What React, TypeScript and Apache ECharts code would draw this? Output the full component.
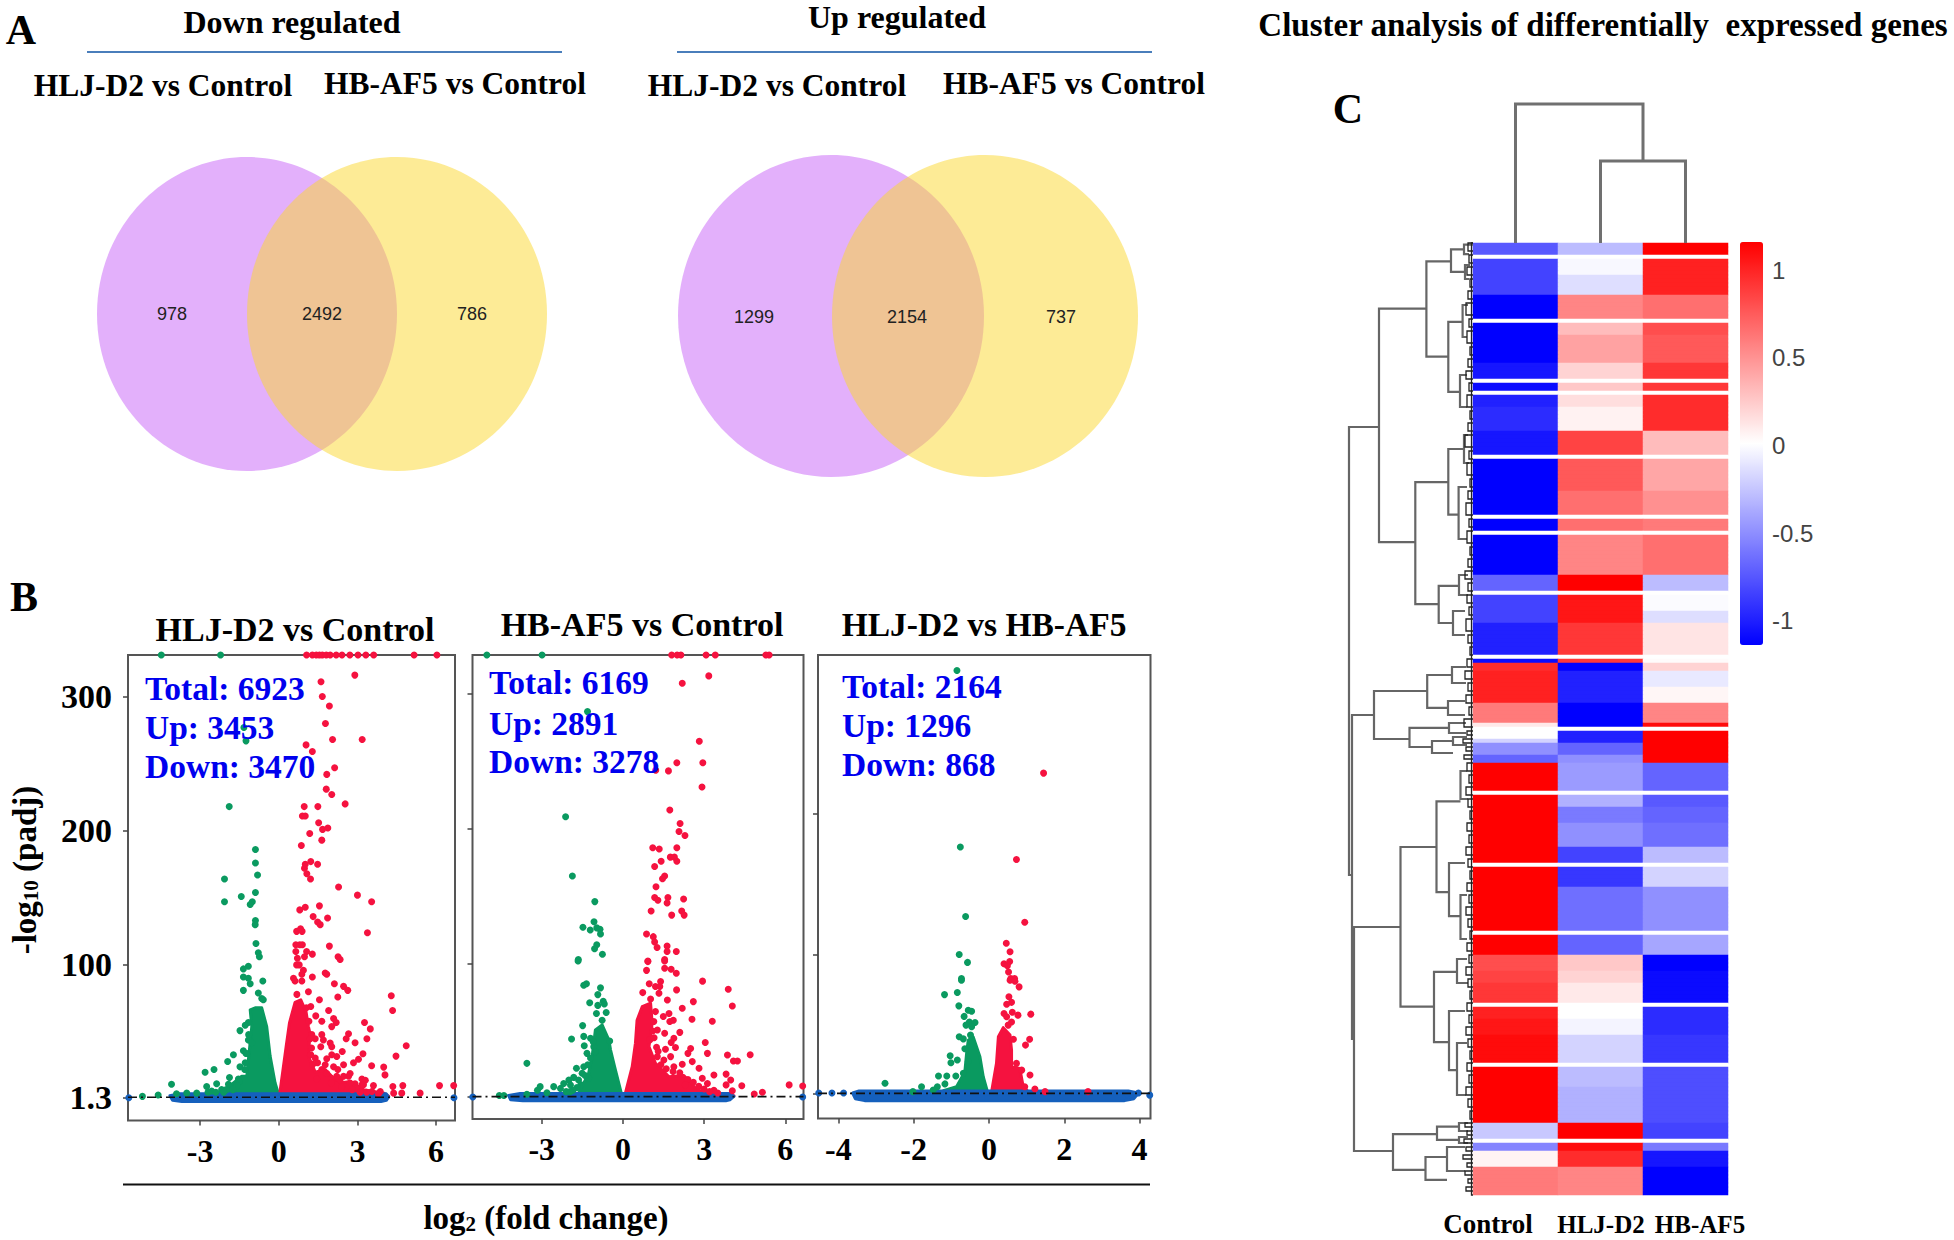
import React, { useEffect, useRef } from "react";
import * as echarts from "echarts";

const SERIF = "'Liberation Serif','Times New Roman',serif";
const SANS = "'Liberation Sans',Arial,sans-serif";

// ---------- Panel A ----------
const vennHeaders = ["Down regulated", "Up regulated"];
const vennSetNames = ["HLJ-D2 vs Control", "HB-AF5 vs Control"];
const vennDownCounts = ["978", "2492", "786"];
const vennUpCounts = ["1299", "2154", "737"];

// ---------- Panel B ----------
const volcanoTitles = ["HLJ-D2 vs Control", "HB-AF5 vs Control", "HLJ-D2 vs HB-AF5"];
const volcanoStats = [
  ["Total: 6923", "Up: 3453", "Down: 3470"],
  ["Total: 6169", "Up: 2891", "Down: 3278"],
  ["Total: 2164", "Up: 1296", "Down: 868"],
];
const thresholdValue = 1.3;
const p1XTicks = [-3, 0, 3, 6];
const p2XTicks = [-3, 0, 3, 6];
const p3XTicks = [-4, -2, 0, 2, 4];
const p1YTicks = [300, 200, 100, 1.3];
const p2YTicks = [300, 200, 100, 1.3];
const p3YTicks = [200, 100, 1.3];

const p1Red = [[1.06,331],[1.28,331],[1.43,331],[1.55,331],[1.66,331],[1.81,331],[1.96,331],[2.19,331],[2.41,331],[2.71,331],[3.02,331],[3.32,331],[3.62,331],[5.16,331],[6.03,331],
[2.9,316],[1.61,311],[1.66,300],[1.93,293],[1.78,280],[2.05,268],[3.18,268],[1.04,264],[1.28,259],[2.13,247],[1.83,242],[1.81,231],[2.02,227],[2.53,220],[0.97,218],[1.49,218],[0.9,211],[1.01,211],[1.52,206],[1.18,198],[1.67,201],[1.87,202],[1.64,193],[0.86,189],[1.22,177],[1.48,175],[1.01,175],[0.98,172],[1.07,168],[1.21,164],[2.28,158],[3,152],[3.54,147],[0.8,141],[1.01,143],[1.55,144],[1.31,136],[1.86,135],[1.48,132],[1.58,130],[3.38,124],[0.68,125],[0.83,127],[0.89,125],[0.65,115],[0.8,115],[0.9,115],[0.65,110],[1.06,110],[1.93,114],[1.28,108],[0.71,105],[0.98,106],[2.26,106],[2.34,104],[0.68,100],
[0.78,100],[0.94,96],[0.88,93],[0.56,90],[0.62,88],[0.88,88],[1.28,91],[1.77,94],[1.83,93],[2.12,86],[2.47,84],[2.63,81],[1.13,80],[0.69,78],[2.25,76],[4.29,77],[4.34,66],[1.55,74],[1.22,69],[1.9,66],[1.41,62],[1.64,58],[2.09,60],[2.19,57],[2.02,54],[3.27,57],[3.49,52.3],[2.66,48.6],[2.57,45],[2.91,42],[3.36,45],[1.26,48],[1.39,45],[1.64,48],[1.7,44],[1.96,41.7],[2.02,39],[4.86,39.7],[1.6,39],[2.42,35.5],[3.21,33.7],[4.47,32],[3.04,29.7],[2.85,27],[2.02,33],[1.83,30],[2.21,31.7],[1.39,30.5],[1.48,27],[1.77,25.5],[2.09,24],[2.47,25.5],[2.25,22],[3.54,24.8],[4,23.8],[4.05,18],[2.72,19],[2.66,17],[3.17,15],[3.3,14],[2.34,14.3],[2.91,11.4],[3.61,10],[3.17,10.6],[4.35,9.4],[4.73,10],[4.38,4.4],[4.69,4.4],[5.39,4.4],[6.13,10],[6.67,10],[3.87,5.6],[3.55,5.6],
[1.64,22],[1.83,19],[2.21,17],[2.47,17],[2.72,12],[2.98,8],[3.23,10.6],[1.45,15],[2,12],[2.4,9],[2.8,7],[3.1,5],[3.35,5],[3.8,4],[1.2,45],[1.25,38],[1.15,58],[1.05,68],[1.3,26],[1.22,33]];
const p1Green = [[-4.48,331],[-2.22,331],[-1.33,277],[-1.25,267],[-1.89,218],[-0.89,186],[-0.89,176],[-0.81,167],[-2.07,164],[-0.89,154],[-1.43,151],[-2.07,147],[-1.01,147],[-1.09,145],[-0.89,133],[-0.9,130],[-0.87,116],[-0.78,109],[-0.74,106],
[-1.16,99],[-1.35,97],[-1.35,91],[-1.16,90],[-1.09,86],[-0.61,88],[-1.35,81],[-0.78,79],[-0.65,75],[-0.59,74],[-1.16,57],[-1.28,55],[-1.48,51],[-1.16,44],[-1.03,42],[-1.35,36],[-1.22,34],[-1.73,33],[-1.95,28],[-1.48,24],[-1.28,27],[-2.81,20],[-2.47,22],[-1.88,16],[-1.54,15],[-2.75,9.4],[-2.37,11.4],[-2.18,7],[-1.92,11],[-2.56,6],[-3.13,4.4],[-3.51,4.4],[-1.73,8],[-4.09,11],[-4.6,3],[-5.2,2],[-3.9,4],
[-1.5,13],[-1.6,10],[-1.75,7],[-2,7],[-2.1,5],[-1.3,22],[-1.25,34],[-1.15,48],[-2.4,5],[-2.7,5]];
const p1RedMass = [[0.03,3],[0.28,39],[0.41,57],[0.62,72],[0.84,74],[1.04,65],[1.13,54],[1.19,49],[1.13,32],[1.39,20],[1.77,22],[2.02,17],[2.34,12],[2.72,13],[3.23,7],[4,4.4],[4.19,2]];
const p1GreenMass = [[-2.3,4],[-1.86,10],[-1.41,17],[-1.22,17],[-1.16,29],[-1.03,54],[-1.09,66.5],[-0.9,68],[-0.65,68],[-0.46,54],[-0.33,32],[-0.14,12],[0,3]];
const p1BlueBand = [[-4.15,2.5],[-3.8,3.9],[4.1,3.9],[4.19,1.5],[4.1,-1],[3.9,-1.8],[-3.7,-1.8],[-4.05,-1]];
const p1BlueEdge = [[-5.72,1],[6.68,1]];

const p2Red = [[1.8,329],[2,329],[2.14,329],[3.07,329],[3.41,329],[5.28,329],[5.4,329],
[3.17,313.5],[2.19,308],[2.82,265],[1.99,249],[2.95,249],[1.21,243.5],[1.68,243],[2.92,231],[1.73,214],[2.11,204],[2.07,198],[2.29,195],[1.1,186],[1.34,185],[1.99,186],[1.75,179],[1.9,179],[1.99,176],[1.41,176],[1.17,172],[1.54,165],[1.46,163],[1.22,157],[1.17,149],[1.29,147],[1.66,149],[1.63,145],[2.24,148],[1.04,139],[2.17,139],[2.26,136],[1.8,136],[0.87,122],[1.12,120],[1.17,116],[1.26,112],[1.63,113],[1.97,109],[1.63,109],[0.92,102],[1.54,103],
[0.92,101.5],[1.54,102],[0.87,95],[1.54,96.5],[1.78,95.8],[1.97,92.9],[2.94,87],[0.97,85],[1.2,83],[1.39,86.7],[1.36,83],[3.89,81],[1.98,80.5],[1.33,78],[0.73,78.5],[4.04,68.6],[1.02,73.8],[1.64,73],[2.6,71.8],[2.19,66.9],[1.2,64.4],[1.7,63],[1.49,60.7],[1.86,58],[1.73,57],[2.55,58.7],[3.3,57.2],[1.14,57],[1.27,50.8],[2.1,49],[1.54,48.3],[1.88,44.6],[1.78,41.4],[0.99,43.4],[3.04,41.4],[1.24,38],[1.57,36.4],[1.94,37.7],[2.5,37],[2.4,33.4],[3.12,33.4],[3.86,32.2],[4.7,32.4],[4.08,27.7],[4.23,27.7],[2.56,27.3],[1.76,31],[1.51,28.5],[1.27,31],[2.19,25.3],[2.81,22.3],[1.88,23.5],[3.36,17.4],[3.81,18],[3.98,13.6],[3.81,10],[4.39,9.4],[2.93,14.9],[3.12,11],[4.04,5.7],[4.85,3.2],[5.15,4.5],[6.14,10],[6.64,9.2],[3.36,6],
[1.4,25],[1.6,22],[1.85,20],[2.1,19],[2.4,14],[2.6,12],[2.8,9],[3,7],[3.2,5],[1.15,45],[1.1,50],[1.3,35],[3.5,4],[2.3,10]];
const p2Green = [[-5.03,329],[-2.99,329],[-1.31,287],[-2.12,209],[-1.87,165],[-1.04,146],[-1.07,131],[-1.48,127],[-1.21,125],[-0.97,126.5],[-0.85,125.5],[-0.83,122],[-0.97,114],[-1.05,111],[-0.76,107],[-1.65,103],
[-1.66,102],[-1.45,84],[-1.35,85],[-0.83,82],[-0.93,77],[-1.23,71],[-0.93,69],[-0.73,72],[-0.69,70],[-0.62,63.7],[-0.98,63],[-0.77,58],[-1.49,54],[-1.9,44],[-1.45,46],[-1.2,44.6],[-0.49,42.6],[-1.43,39],[-1.08,38.4],[-1.33,33.4],[-1.02,34.7],[-1.72,22.3],[-1.45,23.5],[-1.51,18.6],[-1.82,15.6],[-2,13.6],[-2.19,11],[-2.31,7.4],[-2.56,8.7],[-2.81,4.2],[-1.64,13.6],[-1.27,14.9],[-1.94,9.9],[-3.06,8.7],[-3.55,26],[-3.55,3],[-4.57,2.2],[-4.4,2.2],[-3.16,6],
[-1.3,25],[-1.4,17],[-1.55,10],[-1.7,8],[-1.85,6],[-1.1,42],[-1.2,30],[-2.1,5],[-1.95,5]];
const p2RedMass = [[0.07,2.5],[0.34,23.5],[0.46,41],[0.52,58],[0.71,68],[1.02,70.6],[1.08,55.7],[0.96,38.4],[1.2,26],[1.7,16],[2.25,17],[2.75,6],[3.61,3.7],[4.1,2]];
const p2GreenMass = [[-1.64,3.7],[-1.27,18.6],[-1.14,31],[-1.02,50.8],[-0.77,54.5],[-0.52,43.3],[-0.46,36],[-0.31,23.5],[-0.06,3.7]];
const p2BlueBand = [[-4.23,2.2],[-3.8,3.7],[3.95,3.7],[4.1,1.5],[3.95,-1],[3.8,-1.7],[-3.7,-1.7],[-4.15,-1]];
const p2BlueEdge = [[-5.55,1],[6.64,1]];

const p3Red = [[1.45,229],[0.73,167.6],[0.95,123],[0.46,108],[0.56,102],[0.4,93.5],[0.49,92],[0.55,95],[0.52,87.6],[0.58,83],[0.68,83],
[0.56,81.7],[0.69,81],[0.8,77],[0.53,70],[0.6,66],[0.47,64.7],[0.62,59],[0.4,58],[0.77,56.9],[1.11,57.6],[0.47,55.7],[0.6,52],[0.51,49.8],[0.65,39.8],[1.08,39.8],[0.97,35.6],[0.73,22.6],[0.87,17.8],[1.09,14.3],[0.95,6],[1.22,4.4],[1.49,2.5],[2.63,2.5]];
const p3Green = [[-0.85,302],[-0.76,176.5],[-0.62,127],[-0.79,100],[-0.57,94.4],[-0.73,83],
[-0.73,81.7],[-1.18,71.5],[-0.84,73],[-0.8,63.5],[-0.55,60.4],[-0.46,59.7],[-0.66,56],[-0.52,52],[-0.37,51.7],[-0.61,49.8],[-0.46,48.6],[-0.49,42.7],[-0.79,41.5],[-0.68,40],[-0.64,33],[-1.03,28],[-0.84,25],[-1.01,23],[-0.55,23.8],[-1.34,13.6],[-1.12,13.6],[-0.88,13.6],[-0.68,15.5],[-1.79,6],[-1.37,6],[-1.17,8],[-1.48,3.7],[-2.02,2.5],[-2.76,8.5]];
const p3RedMass = [[0.07,2.5],[0.2,22.6],[0.25,41.5],[0.38,48],[0.56,42.7],[0.6,32],[0.6,20],[0.82,19],[0.91,6],[1.04,2.5]];
const p3GreenMass = [[-1.21,3.2],[-0.86,6],[-0.64,16.7],[-0.59,30.8],[-0.55,39],[-0.42,41.5],[-0.24,27.3],[-0.15,13],[-0.04,2.5]];
const p3BlueBand = [[-3.62,1.5],[-3.45,3],[3.7,3],[3.97,1.5],[3.85,-2.5],[3.6,-3.9],[-3.3,-3.9],[-3.55,-2.5]];
const p3BlueEdge = [[-4.52,1.5],[-4.17,1.5],[-3.86,1.5],[3.66,1],[3.97,1.5],[4.27,0]];

// ---------- Panel C ----------
const heatColumns = ["Control", "HLJ-D2", "HB-AF5"];
const colorBarTicks = [-1, -0.5, 0, 0.5, 1];
// [number of rows, Control, HLJ-D2, HB-AF5]; gaps are the white rows
const GAP = [1, 0, 0, 0];
const heatBands = [
  [3,-0.75,-0.3,1.15],GAP,[4,-0.85,-0.03,1],[5,-0.85,-0.15,1],[6,-1.15,0.55,0.65],GAP,[3,-1.15,0.3,0.8],[7,-1.15,0.42,0.75],[4,-1.05,0.2,0.9],GAP,[2,-1.1,0.25,0.9],GAP,[3,-1,0.15,0.95],[6,-0.95,0.06,0.95],[6,-1.05,0.85,0.3],GAP,[8,-1.15,0.75,0.4],[6,-1.15,0.65,0.5],GAP,[3,-1.15,0.65,0.6],GAP,[10,-1.15,0.55,0.65],[4,-0.7,1.15,-0.3],GAP,[4,-0.85,1.05,-0.02],[3,-0.85,1.05,-0.15],[8,-1,0.9,0.12],GAP,[1,-1.1,0.9,0.02],
  [2,0.95,-1.15,0.2],[4,1,-1,-0.1],[4,1,-1,0.04],[5,0.6,-1.15,0.55],[1,0.1,-1.15,1.1],GAP,[2,0,-1,1.15],[1,-0.2,-1,1.15],[3,-0.5,-0.7,1.15],[2,-0.7,-0.5,1.15],[7,1.15,-0.45,-0.7],GAP,[3,1.15,-0.35,-0.75],[4,1.15,-0.6,-0.7],[6,1.15,-0.5,-0.65],[4,1.15,-0.85,-0.3],GAP,[5,1.15,-0.9,-0.2],[11,1.15,-0.65,-0.5],GAP,[5,1.15,-0.7,-0.4],[4,0.8,0.25,-1.15],[3,0.85,0.2,-1.1],[5,0.9,0.1,-1.1],GAP,[3,1,0,-0.95],[4,1.05,-0.05,-0.95],[7,1.1,-0.2,-0.9],GAP,[5,1.15,-0.3,-0.8],[9,1.15,-0.35,-0.8],[4,-0.25,1.15,-0.85],GAP,[2,-0.55,1.1,-0.6],[4,0.05,0.95,-1.05],[7,0.6,0.55,-1.15],
];
// [height, rowA, childHeightA, rowB, childHeightB]
const rowMerges = [
  [124,46,94,158,121],[121,118,99,199,119],[94,16.4,46.6,74.8,57.7],[46.6,4.6,22,28.4,24.7],[22,1.6,9,7.2,8],[24.7,19.7,10.4,37.2,13],[57.7,59.8,24.7,90.3,34.3],[24.7,51.5,9,67.9,14.4],[34.3,85.7,14,95,20],[99,112,45.8,124,63.5],[45.8,108,21,116.2,25],[63.5,121.2,24,126,41],[119,171,72.5,227,80],[72.5,151,36.5,190.9,39],[36.5,139.6,12.5,162.3,24],[39,182.2,16,199.8,24],[80,222.8,36,231.7,47.5],[36,220.9,14,224.2,14],[47.5,228.5,26,234.2,26],
  [9,0.4,0,2.8,4],[8,5.5,3,9,4],[10.4,15.5,5,23.5,6],[13,33,6,41,6],[9,48,5,55,4],[14.4,61,6,74,6],[14,83,5,88,5],[20,92,8,98,8],[21,106,7,110,7],[25,114.5,8,118,8],[24,120,7,122.5,7],[41,124.5,20,127.5,20],[20,123.5,6,125.5,6],[12.5,132,6,139,5],[24,155,8,168.3,12.5],[12.5,163,6,174,6],[16,179,6,185,5],[24,192,8,206.8,16],[16,200,6,213,7],[14,220,5,222,5],[14,223.5,5,225,5],[26,226,8,232,8],
];
// [height, rowA, rowB] for the smallest merges beside the heatmap
const leafTwigs = [[1.5,0,238],[5,0,2],[4,3,5],[6,6,8],[3,9,11],[5,12,14],[7,15,18],[4,19,21],[6,22,25],[3,26,28],[5,29,31],[7,32,34],[4,35,37],[6,38,41],[3,42,44],[5,45,47],[8,48,51],[4,52,54],[6,55,58],[3,59,61],[5,62,64],[7,65,68],[4,69,71],[6,72,75],[3,76,78],[5,79,81],[8,82,84],[5,85,87],[6,88,90],[4,91,93],[7,94,97],[5,98,100],[3,101,103],[6,104,106],[8,107,109],[5,110,112],[7,113,115],[4,116,118],[9,119,121],[6,122,123],[10,124,125],[7,126,127],[9,128,129],[6,130,132],[4,133,135],[7,136,138],[5,139,141],[3,142,144],[6,145,147],[4,148,150],[7,151,153],[5,154,156],[3,157,159],[6,160,162],[4,163,165],[7,166,168],[5,169,171],[3,172,174],[6,175,177],[4,178,180],[7,181,183],[5,184,186],[3,187,189],[6,190,192],[4,193,195],[7,196,198],[5,199,201],[3,202,204],[6,205,207],[4,208,210],[7,211,213],[5,214,216],[3,217,219],[8,220,221],[6,222,223],[9,224,225],[7,226,227],[10,228,229],[6,230,231],[8,232,233],[5,234,235],[7,236,237]];
// [height, colA, childHeightA, colB, childHeightB]
const columnMerges = [[139,0.5,0,2,82],[82,1.5,0,2.5,0]];

const GREEN = "#0a9a60";
const RED = "#f5123f";
const BLUE = "#1560bd";

const heatRows: number[][] = [];
heatBands.forEach((b) => {
  for (let i = 0; i < b[0]; i++) heatRows.push(b.slice(1));
});
const heatData: number[][] = [];
heatRows.forEach((r, y) => r.forEach((v, x) => heatData.push([x, y, v])));

function massSeries(g: number, pts: number[][], fill: string) {
  return {
    type: "custom", xAxisIndex: g, yAxisIndex: g, data: pts, encode: { x: 0, y: 1 }, silent: true,
    renderItem: (params: any, api: any) =>
      params.dataIndex === 0
        ? { type: "polygon", shape: { points: pts.map((p) => api.coord(p)) }, style: { fill, stroke: fill, lineWidth: 3, lineJoin: "round" } }
        : null,
  };
}
function dots(g: number, pts: number[][], color: string) {
  return { type: "scatter", xAxisIndex: g, yAxisIndex: g, data: pts, symbolSize: 7, clip: true, silent: true, itemStyle: { color, opacity: 1 } };
}
function volcano(g: number, red: number[][], green: number[][], redMass: number[][], greenMass: number[][], band: number[][], edge: number[][], xr: number[]) {
  return [
    massSeries(g, greenMass, GREEN),
    massSeries(g, redMass, RED),
    dots(g, green, GREEN),
    dots(g, red, RED),
    massSeries(g, band, BLUE),
    dots(g, edge, BLUE),
    {
      type: "line", xAxisIndex: g, yAxisIndex: g, showSymbol: false, silent: true,
      data: [[xr[0], thresholdValue], [xr[1], thresholdValue]],
      lineStyle: { color: "#111", width: 1.6, type: [9, 4, 2, 4] },
    },
  ];
}
function mergeSeries(g: number, items: number[][], swap: boolean, stroke: string, lineWidth: number) {
  return {
    type: "custom", xAxisIndex: g, yAxisIndex: g, data: items, silent: true, clip: false,
    encode: swap ? { x: [1, 3], y: [0, 2, 4] } : { x: [0, 2, 4], y: [1, 3] },
    renderItem: (_: any, api: any) => {
      const h = api.value(0), a = api.value(1), ha = api.value(2), b = api.value(3), hb = api.value(4);
      const raw = [[ha, a], [h, a], [h, b], [hb, b]];
      const points = raw.map((p) => api.coord(swap ? [p[1], p[0]] : p));
      return { type: "polyline", shape: { points }, style: { stroke, lineWidth, fill: null } };
    },
  };
}

const GRID = [
  { left: 128, top: 655, width: 327, height: 465.5, outerBoundsMode: "none", show: true, borderColor: "#555", borderWidth: 2, backgroundColor: "#fff" },
  { left: 472.5, top: 655, width: 331, height: 464, outerBoundsMode: "none", show: true, borderColor: "#555", borderWidth: 2, backgroundColor: "#fff" },
  { left: 818, top: 655, width: 332.5, height: 463.5, outerBoundsMode: "none", show: true, borderColor: "#555", borderWidth: 2, backgroundColor: "#fff" },
  { left: 1473, top: 243, width: 255, height: 952, outerBoundsMode: "none" },
  { left: 1343, top: 243, width: 130, height: 952, outerBoundsMode: "none" },
  { left: 1473, top: 103, width: 255, height: 140, outerBoundsMode: "none" },
  { left: 1740, top: 244, width: 23, height: 403, outerBoundsMode: "none" },
];

function vx(g: number, min: number, max: number, ticks: number[]) {
  return {
    type: "value", gridIndex: g, min, max, splitLine: { show: false },
    axisLine: { show: false, onZero: false },
    axisTick: { show: true, length: 5, customValues: ticks, lineStyle: { color: "#444", width: 1.5 } },
    axisLabel: { customValues: ticks, margin: 14, color: "#000", fontFamily: SERIF, fontWeight: "bold", fontSize: 32 },
  };
}
function vy(g: number, min: number, max: number, ticks: number[], labels: boolean) {
  return {
    type: "value", gridIndex: g, min, max, splitLine: { show: false },
    axisLine: { show: false, onZero: false },
    axisTick: { show: true, length: 5, customValues: ticks, lineStyle: { color: "#444", width: 1.5 } },
    axisLabel: { show: labels, customValues: ticks, margin: 16, color: "#000", fontFamily: SERIF, fontWeight: "bold", fontSize: 34 },
  };
}
const hidden = (o: any) => ({ show: false, ...o });

function txt(text: string, x: number, y: number, size: number, extra: any = {}) {
  const { fill, family, weight, align, ...rest } = extra;
  return {
    type: "text", x, y, z: 50, silent: true, ...rest,
    style: {
      text, x: 0, y: 0,
      font: `${weight || "bold"} ${size}px ${family || SERIF}`,
      fill: fill || "#000",
      align: align || "center", textAlign: align || "center",
      verticalAlign: "middle", textVerticalAlign: "middle",
    },
  };
}
function ellipse(cx: number, cy: number, rx: number, ry: number, fill: string) {
  return { type: "ellipse", z: 5, silent: true, shape: { cx, cy, rx, ry }, style: { fill } };
}
const PURPLE = "rgba(199,97,247,0.5)";
const YELLOW = "rgba(251,215,45,0.5)";
const rule = (x1: number, x2: number, y: number, stroke: string, lineWidth: number) => ({ type: "line", z: 5, silent: true, shape: { x1, y1: y, x2, y2: y }, style: { stroke, lineWidth } });

function richText(parts: string, x: number, y: number, rotation: number) {
  return {
    type: "text", x, y, rotation, z: 50, silent: true,
    style: {
      text: parts, x: 0, y: 0, align: "center", textAlign: "center", verticalAlign: "middle", textVerticalAlign: "middle",
      font: `bold 33px ${SERIF}`, fill: "#000",
      rich: {
        a: { font: `bold 33px ${SERIF}`, fill: "#000", lineHeight: 38, verticalAlign: "bottom" },
        s: { font: `bold 21px ${SERIF}`, fill: "#000", lineHeight: 38, verticalAlign: "bottom" },
      },
    },
  };
}

const graphics = [
  txt("A", 21, 30, 42), txt("B", 24, 597, 42), txt("C", 1348, 109, 42),
  txt(vennHeaders[0], 292, 22, 32), txt(vennHeaders[1], 897, 17, 32),
  rule(87, 562, 52, "#4a7ebb", 2), rule(677, 1152, 52, "#4a7ebb", 2),
  txt(vennSetNames[0], 163, 85, 31.5), txt(vennSetNames[1], 455, 83, 31.5),
  txt(vennSetNames[0], 777, 85, 31.5), txt(vennSetNames[1], 1074, 83, 31.5),
  ellipse(247, 314, 150, 157, PURPLE), ellipse(397, 314, 150, 157, YELLOW),
  ellipse(831, 316, 153, 161, PURPLE), ellipse(985, 316, 153, 161, YELLOW),
  ...vennDownCounts.map((t, i) => txt(t, [172, 322, 472][i], 314, 18, { family: SANS, weight: "normal", fill: "#222" })),
  ...vennUpCounts.map((t, i) => txt(t, [754, 907, 1061][i], 317, 18, { family: SANS, weight: "normal", fill: "#222" })),
  txt(volcanoTitles[0], 295, 629, 34), txt(volcanoTitles[1], 642, 624, 34), txt(volcanoTitles[2], 984, 624, 33.5),
  ...volcanoStats[0].map((t, i) => txt(t, 145, [688, 727, 766][i], 33.5, { fill: "#0000ee", align: "left" })),
  ...volcanoStats[1].map((t, i) => txt(t, 489, [682, 723, 761][i], 33.5, { fill: "#0000ee", align: "left" })),
  ...volcanoStats[2].map((t, i) => txt(t, 842, [686, 725, 764][i], 33.5, { fill: "#0000ee", align: "left" })),
  richText("{a|-log}{s|10}{a| (padj)}", 22, 870, Math.PI / 2),
  richText("{a|log}{s|2}{a| (fold change)}", 546, 1215, 0),
  rule(123, 1150, 1184.5, "#111", 2),
  txt("Cluster analysis of differentially  expressed genes", 1603, 25, 33),
  txt(heatColumns[0], 1488, 1224, 27), txt(heatColumns[1], 1601, 1224, 25), txt(heatColumns[2], 1700, 1224, 25),
];

const option: any = {
  animation: false,
  backgroundColor: "#fff",
  grid: GRID,
  xAxis: [
    vx(0, -5.75, 6.72, p1XTicks),
    vx(1, -5.56, 6.67, p2XTicks),
    vx(2, -4.54, 4.29, p3XTicks),
    hidden({ type: "category", gridIndex: 3, data: heatColumns }),
    hidden({ type: "value", gridIndex: 4, min: 0, max: 130, inverse: true }),
    hidden({ type: "value", gridIndex: 5, min: 0, max: 3 }),
    hidden({ type: "value", gridIndex: 6, min: 0, max: 1 }),
  ],
  yAxis: [
    vy(0, -16, 331, p1YTicks, true),
    vy(1, -15.3, 329, p2YTicks, false),
    vy(2, -16.6, 313, p3YTicks, false),
    hidden({ type: "category", gridIndex: 3, inverse: true, data: heatRows.map((_, i) => String(i)) }),
    hidden({ type: "value", gridIndex: 4, min: 0, max: heatRows.length, inverse: true }),
    hidden({ type: "value", gridIndex: 5, min: 0, max: 140 }),
    {
      type: "value", gridIndex: 6, position: "right", min: -1.15, max: 1.15, splitLine: { show: false },
      axisLine: { show: false, onZero: false }, axisTick: { show: false },
      axisLabel: { customValues: colorBarTicks, margin: 9, color: "#444", fontFamily: SANS, fontSize: 24 },
    },
  ],
  visualMap: {
    type: "continuous", seriesIndex: 21, dimension: 2, min: -1.15, max: 1.15, calculable: false,
    left: 1740, top: 242, itemWidth: 23, itemHeight: 403, padding: 0, orient: "vertical", realtime: false, hoverLink: false,
    inRange: { color: ["#0000ff", "#ffffff", "#ff0000"] },
  },
  graphic: { elements: graphics },
  series: [
    ...volcano(0, p1Red, p1Green, p1RedMass, p1GreenMass, p1BlueBand, p1BlueEdge, [-5.75, 6.72]),
    ...volcano(1, p2Red, p2Green, p2RedMass, p2GreenMass, p2BlueBand, p2BlueEdge, [-5.56, 6.67]),
    ...volcano(2, p3Red, p3Green, p3RedMass, p3GreenMass, p3BlueBand, p3BlueEdge, [-4.54, 4.29]),
    { type: "heatmap", xAxisIndex: 3, yAxisIndex: 3, data: heatData, progressive: 0, silent: true, emphasis: { disabled: true } },
    mergeSeries(4, rowMerges, false, "#666", 2.2),
    mergeSeries(4, leafTwigs.map((t) => [t[0], t[1], 0, t[2], 0]), false, "#222", 1.3),
    mergeSeries(5, columnMerges, true, "#707070", 3),
  ],
};

export default function App() {
  const ref = useRef<HTMLDivElement>(null);
  useEffect(() => {
    const chart = echarts.init(ref.current!, undefined, { renderer: "svg" });
    chart.setOption(option);
    return () => chart.dispose();
  }, []);
  return <div ref={ref} style={{ position: "absolute", left: 0, top: 0, width: 1954, height: 1240 }} />;
}
